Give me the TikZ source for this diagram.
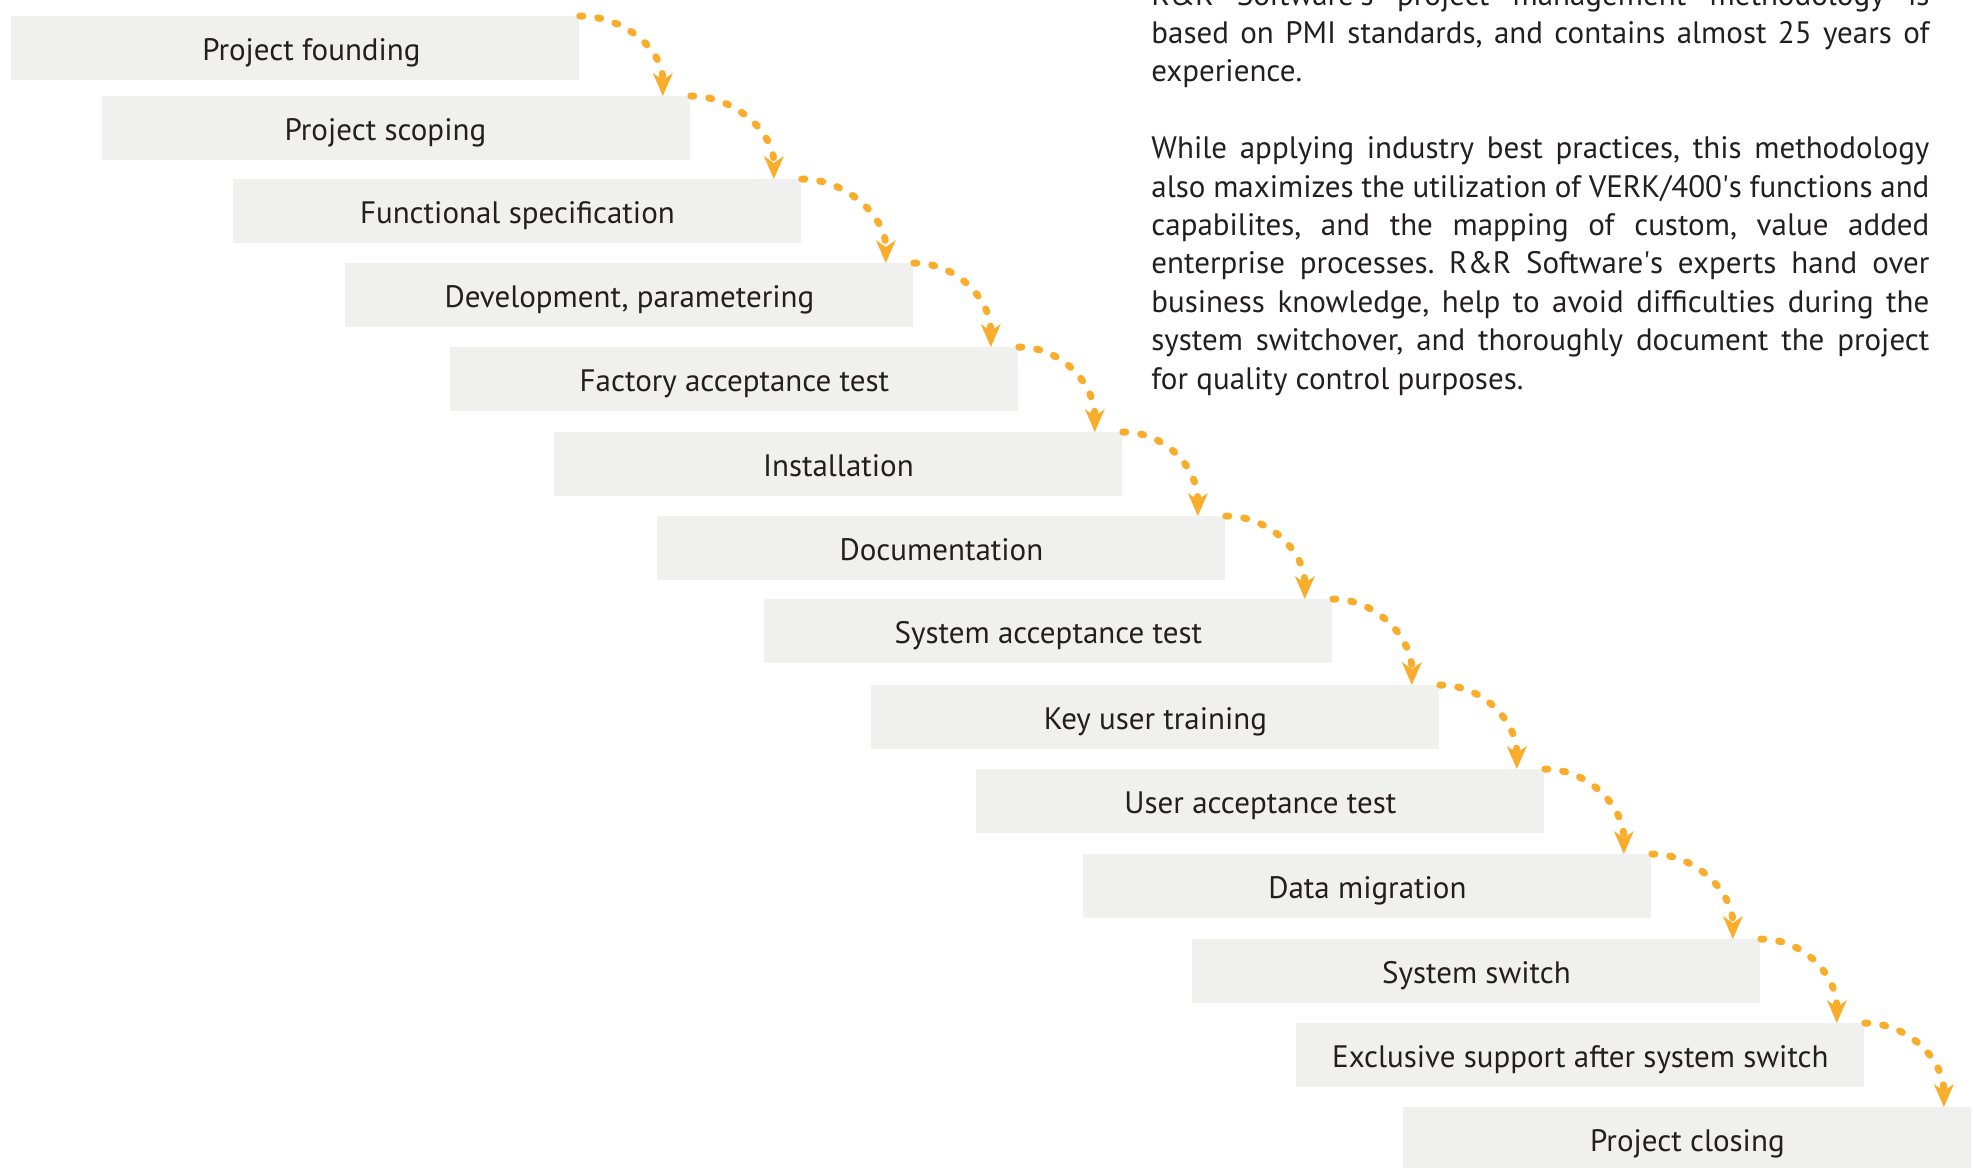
\documentclass[tikz,border=0pt]{standalone}
\usepackage{fontspec}
\setmainfont{PT Sans}
\usetikzlibrary{arrows.meta}
\definecolor{phasegray}{RGB}{240,241,238}
\definecolor{flowamber}{RGB}{250,172,43}
\definecolor{inkdark}{RGB}{35,31,32}
\newcommand{\apos}{\textquotesingle}

\begin{document}
\begin{tikzpicture}[x=0.5pt,y=-0.5pt,
  every node/.style={text=inkdark, font=\fontsize{15.5}{19.2}\selectfont},
  phase/.style={anchor=north west, fill=phasegray, inner sep=0pt,
    minimum width=284pt, minimum height=32pt, text height=12pt, text depth=0pt},
  flow/.style={draw=flowamber, line width=3.5pt, line cap=round,
    dash pattern=on 1.5pt off 7.5pt,
    -{Stealth[length=11.5pt,width=10pt,inset=3.5pt,line width=0pt]}}
  ]
  \useasboundingbox (0,0) rectangle (1973,1167);
  % the phases, top left to bottom right
  \node[phase] (p1) at (11,16) {\hspace*{16pt}Project founding};
  \node[phase, minimum width=294pt] (p2) at (102,96) {Project scoping\hspace*{11pt}};
  \node[phase] (p3) at (233,179) {Functional specification};
  \node[phase] (p4) at (345,263) {Development, parametering};
  \node[phase] (p5) at (450,347) {Factory acceptance test};
  \node[phase] (p6) at (554,432) {Installation};
  \node[phase] (p7) at (657,516) {Documentation};
  \node[phase] (p8) at (764,599) {System acceptance test};
  \node[phase] (p9) at (871,685) {Key user training};
  \node[phase] (p10) at (976,769) {User acceptance test};
  \node[phase] (p11) at (1083,854) {Data migration};
  \node[phase] (p12) at (1192,939) {System switch};
  \node[phase] (p13) at (1296,1023) {Exclusive support after system switch};
  \node[phase] (p14) at (1403,1107) {Project closing};
  % dotted hops
  \foreach \i [count=\j from 2] in {1,...,13}
    \draw[flow] (p\i.north east) .. controls +(45,0) and +(0,-46) .. ([xshift=-14pt]p\j.north east);
  % methodology text
  \node[anchor=base west, text width=389pt, align=justify, inner sep=0pt] (about) at (1151,5)
    {\frenchspacing\hyphenpenalty=10000 \tolerance=10000 \hbadness=10000
     R\&R Software\apos s project management methodology is\linebreak
     based on PMI standards, and contains almost 25 years of\linebreak
     experience.\par\vspace{19.2pt}
     While applying industry best practices, this methodology\linebreak
     also maximizes the utilization of VERK/400\apos s functions and\linebreak
     capabilites, and the mapping of custom, value added\linebreak
     enterprise processes. R\&R Software\apos s experts hand over\linebreak
     business knowledge, help to avoid difficulties during the\linebreak
     system switchover, and thoroughly document the project\linebreak
     for quality control purposes.};
\end{tikzpicture}
\end{document}
